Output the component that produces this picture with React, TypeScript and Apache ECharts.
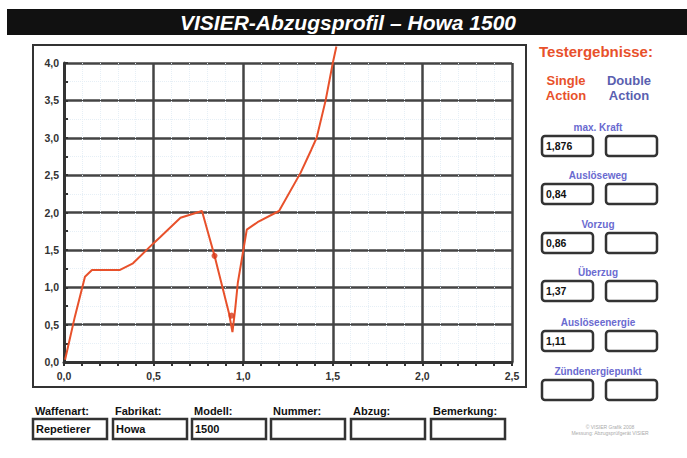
import React, { useEffect, useRef } from "react";
import * as echarts from "echarts";

const title = "VISIER-Abzugsprofil – Howa 1500";
const forceX = [0.006, 0.06, 0.117, 0.156, 0.31, 0.385, 0.5, 0.536, 0.65, 0.77, 0.84, 0.92, 0.94, 0.955, 0.97, 1.02, 1.08, 1.2, 1.32, 1.38, 1.41, 1.46, 1.5, 1.52];
const forceY = [0.03, 0.6, 1.14, 1.23, 1.23, 1.32, 1.59, 1.67, 1.93, 2.02, 1.42, 0.66, 0.4, 0.7, 1.06, 1.77, 1.87, 2.02, 2.53, 2.84, 3.0, 3.5, 4.0, 4.22];
const markX = [0.84, 0.935];
const markY = [1.42, 0.62];

const resultLabels = ["max. Kraft", "Auslöseweg", "Vorzug", "Überzug", "Auslöseenergie", "Zündenergiepunkt"];
const singleValues = ["1,876", "0,84", "0,86", "1,37", "1,11", ""];
const doubleValues = ["", "", "", "", "", ""];

const infoLabels = ["Waffenart:", "Fabrikat:", "Modell:", "Nummer:", "Abzug:", "Bemerkung:"];
const infoValues = ["Repetierer", "Howa", "1500", "", "", ""];

const RED = "#e8512b";
const BLUE = "#6a6ad0";
const FONT = "Liberation Sans";

export default function App() {
  const ref = useRef<HTMLDivElement>(null);
  useEffect(() => {
    if (!ref.current) return;
    const chart = echarts.init(ref.current, null, { renderer: "svg" });
    const fmt = (v: number) => v.toFixed(1).replace(".", ",");

    const graphics: any[] = [
      { type: "rect", shape: { x: 7, y: 9, width: 680, height: 26 }, style: { fill: "#111" } },
      {
        type: "text", x: 348, y: 22,
        style: { text: title, fill: "#fff", font: `italic bold 21px "${FONT}"`, align: "center", verticalAlign: "middle" },
      },
      { type: "rect", shape: { x: 33, y: 45, width: 493, height: 342 }, style: { fill: "none", stroke: "#333", lineWidth: 2 }, z: 0 },
      {
        type: "text", x: 596, y: 51,
        style: { text: "Testergebnisse:", fill: RED, font: `bold 15px "${FONT}"`, align: "center", verticalAlign: "middle" },
      },
      { type: "text", x: 566, y: 80, style: { text: "Single", fill: RED, font: `bold 13px "${FONT}"`, align: "center", verticalAlign: "middle" } },
      { type: "text", x: 566, y: 95, style: { text: "Action", fill: RED, font: `bold 13px "${FONT}"`, align: "center", verticalAlign: "middle" } },
      { type: "text", x: 629, y: 80, style: { text: "Double", fill: "#5a5fb0", font: `bold 13px "${FONT}"`, align: "center", verticalAlign: "middle" } },
      { type: "text", x: 629, y: 95, style: { text: "Action", fill: "#5a5fb0", font: `bold 13px "${FONT}"`, align: "center", verticalAlign: "middle" } },
    ];

    const labelYs = [127, 175, 224, 272, 322, 371];
    resultLabels.forEach((lab, i) => {
      const ly = labelYs[i];
      const by = ly + 9;
      graphics.push({
        type: "text", x: 598, y: ly,
        style: { text: lab, fill: BLUE, font: `bold 10px "${FONT}"`, align: "center", verticalAlign: "middle" },
      });
      graphics.push({ type: "rect", shape: { x: 542, y: by, width: 51, height: 20, r: 3 }, style: { fill: "#fff", stroke: "#333", lineWidth: 2.5 } });
      graphics.push({ type: "rect", shape: { x: 606, y: by, width: 51, height: 20, r: 3 }, style: { fill: "#fff", stroke: "#333", lineWidth: 2.5 } });
      if (singleValues[i]) {
        graphics.push({
          type: "text", x: 546, y: by + 10,
          style: { text: singleValues[i], fill: "#111", font: `bold 10.5px "${FONT}"`, align: "left", verticalAlign: "middle" },
        });
      }
      if (doubleValues[i]) {
        graphics.push({
          type: "text", x: 610, y: by + 10,
          style: { text: doubleValues[i], fill: "#111", font: `bold 10.5px "${FONT}"`, align: "left", verticalAlign: "middle" },
        });
      }
    });

    const boxXs = [33, 113, 192, 271, 351, 431];
    infoLabels.forEach((lab, i) => {
      const bx = boxXs[i];
      graphics.push({
        type: "text", x: bx + 2, y: 411,
        style: { text: lab, fill: "#111", font: `bold 11px "${FONT}"`, align: "left", verticalAlign: "middle" },
      });
      graphics.push({ type: "rect", shape: { x: bx, y: 419, width: 74, height: 20 }, style: { fill: "#fff", stroke: "#333", lineWidth: 2.5 } });
      if (infoValues[i]) {
        graphics.push({
          type: "text", x: bx + 3, y: 429,
          style: { text: infoValues[i], fill: "#111", font: `bold 11px "${FONT}"`, align: "left", verticalAlign: "middle" },
        });
      }
    });

    graphics.push({
      type: "text", x: 610, y: 427,
      style: { text: "© VISIER Grafik 2008", fill: "#aaa", font: `5px "${FONT}"`, align: "center", verticalAlign: "middle" },
    });
    graphics.push({
      type: "text", x: 610, y: 433,
      style: { text: "Messung: Abzugsprüfgerät VISIER", fill: "#aaa", font: `5px "${FONT}"`, align: "center", verticalAlign: "middle" },
    });

    chart.setOption({
      animation: false,
      backgroundColor: "#fff",
      grid: { left: 64, top: 63, width: 448, height: 299, containLabel: false },
      xAxis: {
        type: "value", min: 0, max: 2.5, interval: 0.5,
        axisLine: { show: true, onZero: false, lineStyle: { color: "#333", width: 3 } },
        axisTick: { show: true, length: 4, lineStyle: { color: "#333", width: 2 } },
        minorTick: { show: true, splitNumber: 5, length: 4, lineStyle: { color: "#333", width: 2 } },
        minorSplitLine: { show: true, lineStyle: { color: "#e6eff6", type: "dotted", width: 1 } },
        splitLine: { show: true, lineStyle: { color: "#444", width: 2.5 } },
        axisLabel: { formatter: fmt, color: "#333", fontFamily: FONT, fontWeight: "bold", fontSize: 10.5, margin: 8 },
      },
      yAxis: {
        type: "value", min: 0, max: 4, interval: 0.5,
        axisLine: { show: true, onZero: false, lineStyle: { color: "#333", width: 3 } },
        axisTick: { show: true, inside: true, length: 4, lineStyle: { color: "#333", width: 2 } },
        minorTick: { show: true, splitNumber: 2, length: 4, lineStyle: { color: "#333", width: 2 } },
        minorSplitLine: { show: true, lineStyle: { color: "#e6eff6", type: "dotted", width: 1 } },
        splitLine: { show: true, lineStyle: { color: "#444", width: 2.5 } },
        axisLabel: { formatter: fmt, color: "#333", fontFamily: FONT, fontWeight: "bold", fontSize: 10.5, margin: 5 },
      },
      graphic: graphics,
      series: [
        {
          type: "line",
          data: forceX.map((x, i) => [x, forceY[i]]),
          showSymbol: false,
          clip: false,
          lineStyle: { color: RED, width: 2 },
          z: 5,
        },
        {
          type: "scatter",
          data: markX.map((x, i) => [x, markY[i]]),
          symbolSize: 6,
          itemStyle: { color: "#d83a1a" },
          z: 6,
        },
      ],
    });
    return () => chart.dispose();
  }, []);
  return <div ref={ref} style={{ position: "absolute", left: 0, top: 0, width: 687, height: 458 }} />;
}
